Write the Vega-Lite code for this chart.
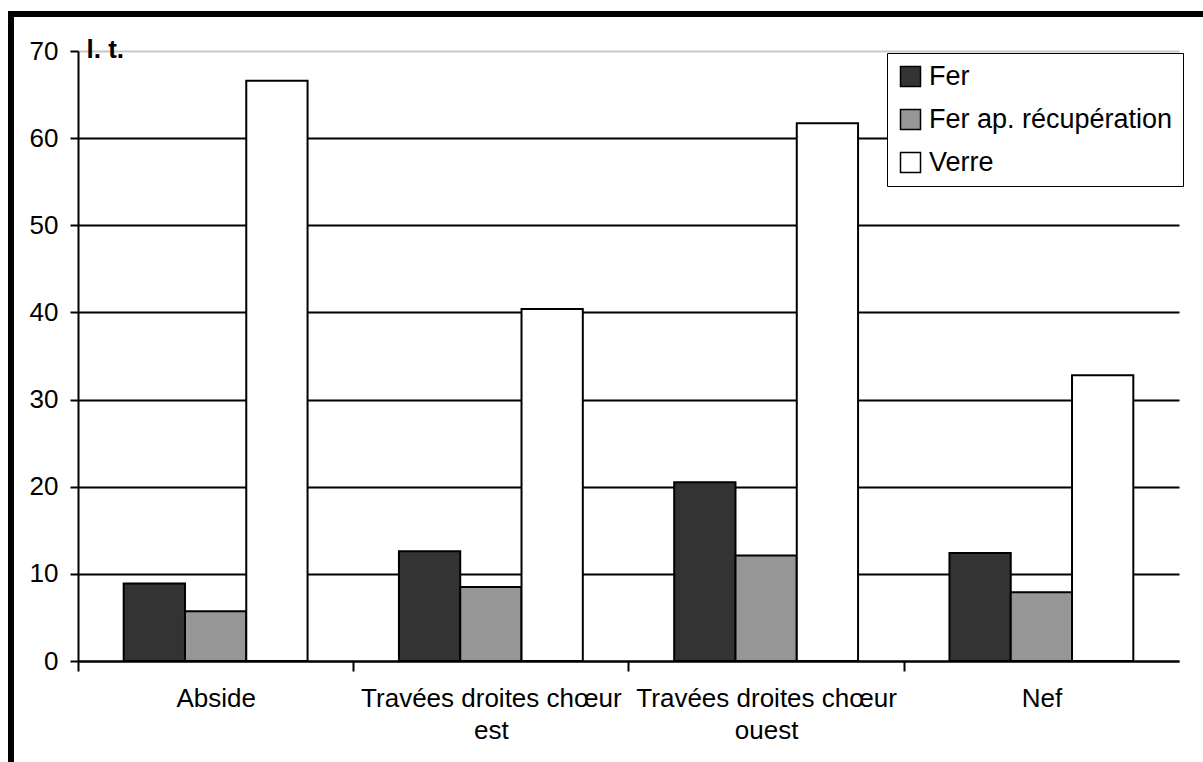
{
  "$schema": "https://vega.github.io/schema/vega-lite/v6.json",
  "autosize": {"type": "none"},
  "padding": {"left": 11, "top": 14, "right": -20, "bottom": -20},
  "width": 1212,
  "height": 768,
  "background": "white",
  "config": {
    "view": {"stroke": "black", "strokeWidth": 6, "fill": "white"},
    "font": "Liberation Sans"
  },
  "data": {
    "values": [
      {"zone": "Abside", "serie": "Fer", "valeur": 8.9},
      {"zone": "Abside", "serie": "Fer ap. récupération", "valeur": 5.7},
      {"zone": "Abside", "serie": "Verre", "valeur": 66.6},
      {"zone": "Travées droites chœur est", "serie": "Fer", "valeur": 12.6},
      {"zone": "Travées droites chœur est", "serie": "Fer ap. récupération", "valeur": 8.5},
      {"zone": "Travées droites chœur est", "serie": "Verre", "valeur": 40.4},
      {"zone": "Travées droites chœur ouest", "serie": "Fer", "valeur": 20.5},
      {"zone": "Travées droites chœur ouest", "serie": "Fer ap. récupération", "valeur": 12.1},
      {"zone": "Travées droites chœur ouest", "serie": "Verre", "valeur": 61.7},
      {"zone": "Nef", "serie": "Fer", "valeur": 12.4},
      {"zone": "Nef", "serie": "Fer ap. récupération", "valeur": 7.9},
      {"zone": "Nef", "serie": "Verre", "valeur": 32.8}
    ]
  },
  "mark": {"type": "bar", "stroke": "black", "strokeWidth": 2, "opacity": 1},
  "encoding": {
    "x": {
      "field": "zone",
      "type": "nominal",
      "sort": ["Abside", "Travées droites chœur est", "Travées droites chœur ouest", "Nef"],
      "scale": {"range": [67, 1168], "paddingInner": 0.332, "paddingOuter": 0.166},
      "axis": {
        "title": null,
        "orient": "bottom",
        "offset": -121,
        "labelAngle": 0,
        "labelFontSize": 26,
        "labelColor": "black",
        "labelLimit": 0,
        "labelOverlap": false,
        "labelPadding": 14,
        "labelLineHeight": 32,
        "labelBaseline": "top",
        "labelExpr": "datum.value == 'Travées droites chœur est' ? ['Travées droites chœur', 'est'] : datum.value == 'Travées droites chœur ouest' ? ['Travées droites chœur', 'ouest'] : datum.value",
        "bandPosition": 0,
        "tickExtra": true,
        "tickOffset": -45.7,
        "labelOffset": 45.7,
        "tickSize": 10,
        "tickColor": "black",
        "tickWidth": 2,
        "domainColor": "black",
        "domainWidth": 2,
        "grid": false
      }
    },
    "xOffset": {
      "field": "serie",
      "type": "nominal",
      "sort": ["Fer", "Fer ap. récupération", "Verre"],
      "scale": {"paddingInner": 0, "paddingOuter": 0}
    },
    "y": {
      "field": "valeur",
      "type": "quantitative",
      "scale": {"domain": [0, 70], "range": [647, 37], "nice": false, "zero": true},
      "axis": {
        "title": "l. t.",
        "titleAngle": 0,
        "titleFontSize": 26,
        "titleFontWeight": "bold",
        "titleColor": "black",
        "titleAlign": "left",
        "titleBaseline": "alphabetic",
        "titleX": 8,
        "titleY": 43,
        "orient": "left",
        "offset": -67,
        "values": [0, 10, 20, 30, 40, 50, 60, 70],
        "labelFontSize": 26,
        "labelColor": "black",
        "labelPadding": 12,
        "tickSize": 8,
        "tickColor": "black",
        "tickWidth": 2,
        "domainColor": "black",
        "domainWidth": 2,
        "grid": true,
        "gridWidth": 2,
        "gridColor": {"condition": {"test": "datum.value == 70", "value": "#c8c8c8"}, "value": "black"}
      }
    },
    "color": {
      "field": "serie",
      "type": "nominal",
      "sort": ["Fer", "Fer ap. récupération", "Verre"],
      "scale": {"domain": ["Fer", "Fer ap. récupération", "Verre"], "range": ["#333333", "#969696", "#ffffff"]},
      "legend": {
        "title": null,
        "orient": "none",
        "legendX": 876,
        "legendY": 39,
        "fillColor": "white",
        "strokeColor": "black",
        "padding": 10,
        "rowPadding": 15,
        "labelFontSize": 27,
        "labelColor": "black",
        "labelLimit": 0,
        "labelOffset": 5,
        "symbolType": "square",
        "symbolSize": 400,
        "symbolStrokeColor": "black",
        "symbolStrokeWidth": 1.5,
        "symbolOpacity": 1
      }
    }
  }
}
